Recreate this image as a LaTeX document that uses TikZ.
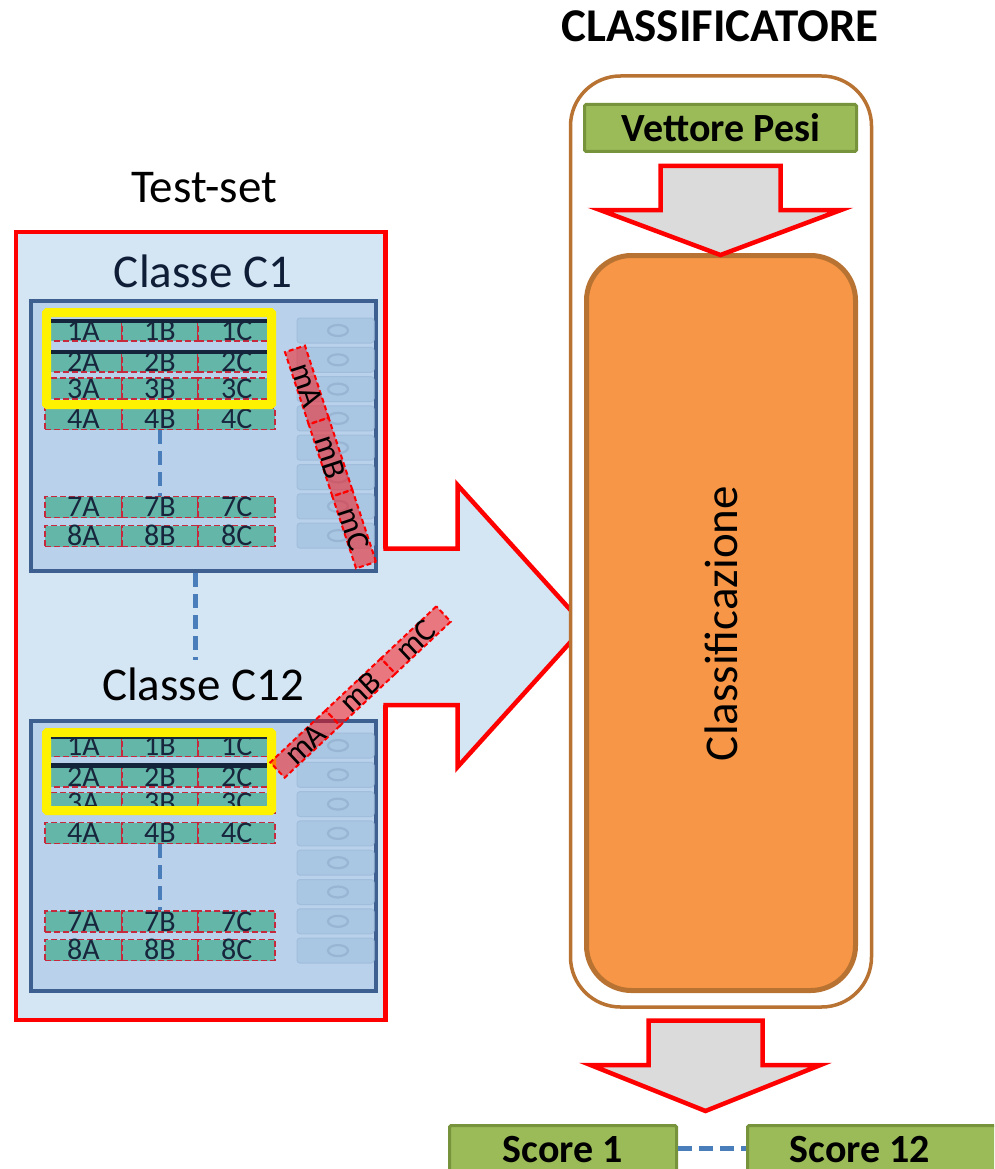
\documentclass[tikz,border=0pt]{standalone}
\usepackage{fontspec}
\setmainfont{Carlito}
\definecolor{tsfill}{HTML}{D4E5F4}
\definecolor{panelfill}{HTML}{B9D1EA}
\definecolor{paneledge}{HTML}{3E6090}
\definecolor{cellteal}{HTML}{64B7A8}
\definecolor{cellred}{HTML}{C8283C}
\definecolor{celltext}{HTML}{17263D}
\definecolor{ghostfill}{HTML}{A9C6E3}
\definecolor{ghostedge}{HTML}{A0BDDB}
\definecolor{ghostzero}{HTML}{98B5D3}
\definecolor{barnavy}{HTML}{14243A}
\definecolor{dashblue}{HTML}{4A7EBB}
\definecolor{clsbrown}{HTML}{B87333}
\definecolor{orangefill}{HTML}{F79646}
\definecolor{greenfill}{HTML}{9BBB59}
\definecolor{greenedge}{HTML}{77933C}
\definecolor{arrowgray}{HTML}{DBDBDB}
\definecolor{navytext}{HTML}{0F1E36}
\tikzset{
  titletext/.style={font=\fontsize{47}{50}\selectfont, inner sep=0pt, anchor=base},
  boldtitle/.style={font=\bfseries\fontsize{47}{50}\selectfont, inner sep=0pt, anchor=base},
  greentext/.style={font=\bfseries\fontsize{40}{44}\selectfont, inner sep=0pt, anchor=base},
  panel/.style={draw=paneledge, line width=4pt, fill=panelfill, inner sep=0pt, minimum width=345pt, minimum height=270pt},
  cellbox/.style={draw=cellred, dash pattern=on 6pt off 3pt, line width=1.8pt, fill=cellteal,
    minimum width=76.67pt, minimum height=21pt, inner sep=0pt, text height=19.3pt, text depth=0pt,
    text=celltext, font=\fontsize{30}{30}\selectfont},
  ghostbox/.style={draw=ghostedge, line width=1pt, fill=ghostfill, rounded corners=3pt,
    minimum width=77pt, minimum height=25pt, inner sep=0pt},
  ghostzero/.style={draw=ghostzero, line width=2.2pt},
  yellowbox/.style={draw=yellow, line width=9pt, rounded corners=1pt, inner sep=0pt, minimum width=225pt},
  barline/.style={draw=barnavy},
  dashline/.style={draw=dashblue, line width=4.5pt, dash pattern=on 14pt off 7pt},
  stripbox/.style={draw=red, dash pattern=on 5pt off 3pt, line width=2pt, fill=red, fill opacity=0.48,
    draw opacity=1, text opacity=1, minimum width=76pt, minimum height=21pt, inner sep=0pt,
    text height=20.6pt, text depth=0pt, text=black, font=\fontsize{32}{32}\selectfont},
  blockarrow/.style={draw=red, line width=4.5pt, fill=arrowgray, line join=miter},
  greenbox/.style={draw=greenedge, line width=3pt, fill=greenfill, inner sep=0pt, rounded corners=1.5pt},
}
\begin{document}
\begin{tikzpicture}[x=1pt,y=-1pt]
\useasboundingbox (0,0) rectangle (994,1169);
\clip (0,0) rectangle (994,1169);
\fill[white] (0,0) rectangle (994,1169);

% ---------- Test-set frame ----------
\node[draw=red, line width=4.5pt, fill=tsfill, minimum width=369.5pt, minimum height=788pt, inner sep=0pt] (testset) at (200.75,626) {};

% ---------- big arrow ----------
\fill[tsfill] (383,548.5) -- (457.5,548.5) -- (457.5,485) -- (585,626) -- (457.5,767) -- (457.5,705) -- (383,705) -- cycle;
\draw[draw=red, line width=4.5pt, line join=miter] (383.25,548.5) -- (457.5,548.5) -- (457.5,485) -- (585,626) -- (457.5,767) -- (457.5,705) -- (383.25,705);

% ---------- titles ----------
\node[titletext] (tstitle) at (204,203) {Test-set};
\node[titletext, text=navytext] (c1title) at (203,287) {Classe C1};
\node[titletext] (c12title) at (203,700) {Classe C12};
\node[boldtitle] (clstitle) at (720,42) {CLASSIFICATORE};

% ---------- panel C1 ----------
\node[panel] (p1) at (203.5,435.75) {};
\foreach \gi in {0,...,7} {
  \node[ghostbox] (g1\gi) at (335.5,330.5+29.3*\gi) {};
  \draw[ghostzero] (338,330.5+29.3*\gi) ellipse [x radius=10, y radius=5.5];
}
\foreach \rw/\yy in {1/330.5, 2/361.5, 3/388.5, 4/419, 7/507, 8/536} {
  \foreach \cl/\xx in {A/83.33, B/160, C/236.67} {
    \node[cellbox] (p1r\rw\cl) at (\xx,\yy) {\rw\cl};
  }
}
\node[yellowbox, minimum height=92pt] (yel1) at (159,358.5) {};
\draw[barline, line width=4pt] (51,321) -- (267,321);
\draw[barline, line width=4pt] (51,352) -- (267,352);
\draw[dashline] (p1r4B.south) -- (p1r7B.north);

% ---------- link between classes ----------
\coordinate (lnktop) at (195.5,573);
\coordinate (lnkbot) at (195.5,660);
\draw[dashline] (lnktop) -- (lnkbot);

% ---------- panel C12 ----------
\node[panel] (p12) at (203.25,855.5) {};
\foreach \gi in {0,...,7} {
  \node[ghostbox] (g12\gi) at (335.5,745.5+29.3*\gi) {};
  \draw[ghostzero] (338,745.5+29.3*\gi) ellipse [x radius=10, y radius=5.5];
}
\foreach \rw/\yy in {1/746, 2/776.5, 3/803, 4/833, 7/921.5, 8/950} {
  \foreach \cl/\xx in {A/83.33, B/160, C/236.67} {
    \node[cellbox] (p12r\rw\cl) at (\xx,\yy) {\rw\cl};
  }
}
\node[yellowbox, minimum height=78pt] (yel12) at (159,771.5) {};
\draw[barline, line width=2pt] (51,738) -- (267,738);
\draw[barline, line width=5pt] (51,765.5) -- (267,765.5);
\draw[dashline] (p12r4B.south) -- (p12r7B.north);

% ---------- m strips ----------
\node[stripbox, rotate=-71.8] (s1a) at (306.83,385) {mA};
\node[stripbox, rotate=-71.8] (s1b) at (330.5,457) {mB};
\node[stripbox, rotate=-71.8] (s1c) at (354.17,529) {mC};
\node[stripbox, rotate=43.2] (s12a) at (305.17,744) {mA};
\node[stripbox, rotate=43.2] (s12b) at (360.5,692) {mB};
\node[stripbox, rotate=43.2] (s12c) at (415.83,640) {mC};

% ---------- classifier ----------
\node[draw=clsbrown, line width=3.5pt, fill=white, rounded corners=50pt, minimum width=301pt, minimum height=931pt, inner sep=0pt] (cls) at (721,541.5) {};
\node[greenbox, minimum width=272pt, minimum height=47pt] (vp) at (720.5,128) {};
\node[greentext] (vptxt) at (721,142) {Vettore Pesi};
\node[draw=clsbrown, line width=5pt, fill=orangefill, rounded corners=45pt, minimum width=269pt, minimum height=735pt, inner sep=0pt] (classif) at (721,623) {};
\node[font=\fontsize{47}{50}\selectfont, rotate=90, inner sep=0pt] (classiftxt) at (721,623.5) {Classificazione};

% top block arrow
\draw[blockarrow] (660.5,166) -- (780.5,166) -- (780.5,210) -- (841,210) -- (720.5,255) -- (600,210) -- (660.5,210) -- cycle;
% bottom block arrow
\draw[blockarrow] (648.5,1020.5) -- (762.5,1020.5) -- (762.5,1065) -- (820.5,1065) -- (705.5,1111) -- (590.5,1065) -- (648.5,1065) -- cycle;

% ---------- scores ----------
\node[greenbox, minimum width=227pt, minimum height=59.5pt] (score1) at (563,1155.25) {};
\node[greentext] (score1txt) at (563,1162) {Score 1};
\node[greenbox, minimum width=262.5pt, minimum height=59.5pt] (score12) at (878.75,1155.25) {};
\node[greentext] (score12txt) at (860,1162) {Score 12};
\draw[dashline] ([yshift=7pt]score1.east) -- ([yshift=7pt]score12.west);
\end{tikzpicture}
\end{document}
